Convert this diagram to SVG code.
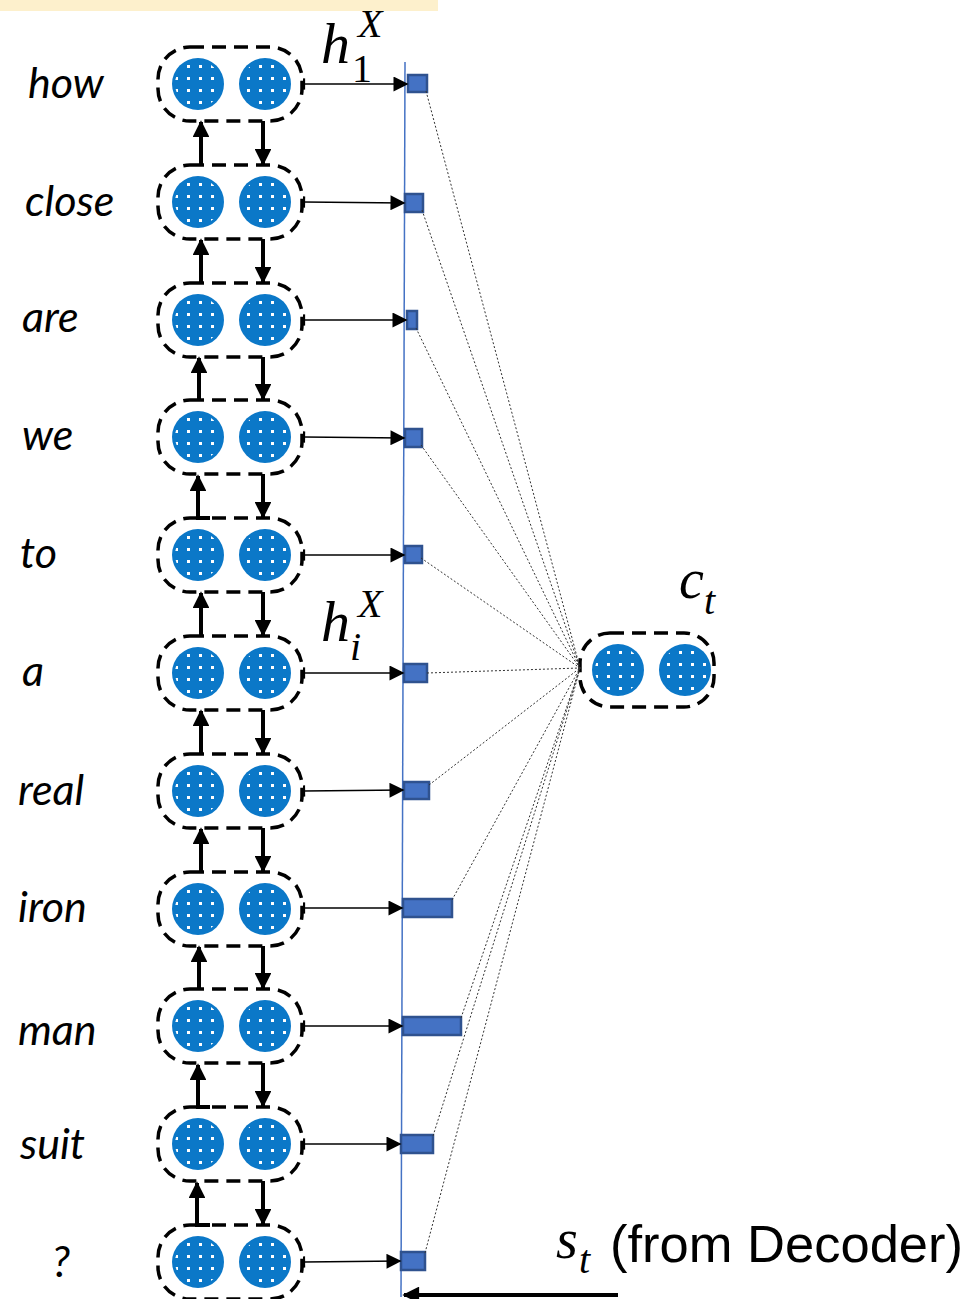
<svg xmlns="http://www.w3.org/2000/svg" width="971" height="1299" viewBox="0 0 971 1299">
  <style>
    .word { font-family: Lato, "Open Sans", "Liberation Sans", sans-serif; font-style: italic; font-size: 43px; fill: #000; }
    .math { font-family: "Liberation Serif", "DejaVu Serif", serif; font-style: italic; fill: #000; }
    .up { font-style: normal; }
    .plain { font-family: "Liberation Sans", Arial, sans-serif; font-size: 52.5px; fill: #000; }
    .cell { fill: none; stroke: #000; stroke-width: 3.5; stroke-dasharray: 14 8; }
    .unit { fill: #0b78c8; }
    .dots { fill: url(#dotgrid); }
    .link { stroke: #000; stroke-width: 4; fill: none; }
    .feed { stroke: #000; stroke-width: 1.5; fill: none; }
    .score { fill: #4472c4; stroke: #2f528f; stroke-width: 2.5; }
    .attn { stroke: #333; stroke-width: 1; stroke-dasharray: 2 2; fill: none; }
  </style>
  <defs>
    <pattern id="dotgrid" patternUnits="userSpaceOnUse" width="12" height="12" x="1" y="2">
      <rect x="4" y="4" width="3" height="3" fill="#fff"/>
    </pattern>
    <marker id="thick" viewBox="0 0 10 10" refX="9" refY="5" markerWidth="4.6" markerHeight="4.2" orient="auto" markerUnits="strokeWidth">
      <path d="M0,0 L10,5 L0,10 z" fill="#000"/>
    </marker>
    <marker id="thin" viewBox="0 0 10 10" refX="9" refY="5" markerWidth="12" markerHeight="10" orient="auto" markerUnits="strokeWidth">
      <path d="M0,0 L10,5 L0,10 z" fill="#000"/>
    </marker>
    <marker id="tick" viewBox="0 0 4 10" refX="1" refY="5" markerWidth="3" markerHeight="8" orient="auto" markerUnits="strokeWidth">
      <rect x="0" y="0" width="2" height="10" fill="#000"/>
    </marker>
    <g id="units">
      <circle class="unit" cx="40" cy="37" r="26"/>
      <circle class="dots" cx="40" cy="37" r="23"/>
      <circle class="unit" cx="107" cy="37" r="26"/>
      <circle class="dots" cx="107" cy="37" r="23"/>
    </g>
    <g id="pair">
      <use href="#units"/>
      <rect class="cell" x="0" y="0" width="144" height="74" rx="32" ry="32"/>
    </g>
  </defs>

  <!-- header strip -->
  <rect x="0" y="0" width="438" height="11" fill="#fdf0cc"/>

  <!-- word labels -->
  <g id="words">
    <text class="word" x="28" y="98">how</text>
    <text class="word" x="25" y="216">close</text>
    <text class="word" x="22" y="332">are</text>
    <text class="word" x="22" y="450">we</text>
    <text class="word" x="20" y="568">to</text>
    <text class="word" x="22" y="686">a</text>
    <text class="word" x="18" y="805">real</text>
    <text class="word" x="18" y="922">iron</text>
    <text class="word" x="18" y="1045">man</text>
    <text class="word" x="20" y="1159">suit</text>
    <text class="word" x="52" y="1277">?</text>
  </g>

  <!-- encoder cells -->
  <g id="enc-how"><use href="#pair" x="158" y="47"/></g>
  <g id="enc-close"><use href="#pair" x="158" y="165"/></g>
  <g id="enc-are"><use href="#pair" x="158" y="283"/></g>
  <g id="enc-we"><use href="#pair" x="158" y="400"/></g>
  <g id="enc-to"><use href="#pair" x="158" y="518"/></g>
  <g id="enc-a"><use href="#pair" x="158" y="636"/></g>
  <g id="enc-real"><use href="#pair" x="158" y="754"/></g>
  <g id="enc-iron"><use href="#pair" x="158" y="872"/></g>
  <g id="enc-man"><use href="#pair" x="158" y="989"/></g>
  <g id="enc-suit"><use href="#pair" x="158" y="1107"/></g>
  <g id="enc-q"><use href="#pair" x="158" y="1225"/></g>

  <!-- context vector -->
  <g id="context">
    <use href="#units" x="578" y="633"/>
    <rect class="cell" x="580" y="633" width="134" height="74" rx="30" ry="30"/>
  </g>

  <!-- attention score bars on the hidden-state axis -->
  <g id="scores">
    <line x1="405" y1="62" x2="401" y2="1297" stroke="#4472c4" stroke-width="1.5"/>
    <rect class="score" x="408" y="75" width="19" height="17"/>
    <rect class="score" x="405" y="194" width="18" height="18"/>
    <rect class="score" x="407" y="311" width="10" height="18"/>
    <rect class="score" x="405" y="429" width="17" height="18"/>
    <rect class="score" x="405" y="546" width="17" height="17"/>
    <rect class="score" x="404" y="664" width="23" height="18"/>
    <rect class="score" x="404" y="782" width="25" height="17"/>
    <rect class="score" x="403" y="899" width="49" height="18"/>
    <rect class="score" x="403" y="1017" width="58" height="18"/>
    <rect class="score" x="401" y="1135" width="32" height="18"/>
    <rect class="score" x="401" y="1252" width="24" height="18"/>
  </g>

  <g id="connectors">
    <!-- recurrent links: forward (up) and backward (down) -->
    <g class="link">
      <line x1="201" y1="165" x2="201" y2="122" marker-end="url(#thick)"/>
      <line x1="263" y1="121" x2="263" y2="164" marker-end="url(#thick)"/>
      <line x1="201" y1="283" x2="201" y2="240" marker-end="url(#thick)"/>
      <line x1="263" y1="239" x2="263" y2="282" marker-end="url(#thick)"/>
      <line x1="199" y1="400" x2="199" y2="358" marker-end="url(#thick)"/>
      <line x1="263" y1="357" x2="263" y2="399" marker-end="url(#thick)"/>
      <path d="M210,518 H198 V476" marker-end="url(#thick)"/>
      <line x1="263" y1="474" x2="263" y2="517" marker-end="url(#thick)"/>
      <line x1="201" y1="636" x2="201" y2="593" marker-end="url(#thick)"/>
      <line x1="263" y1="592" x2="263" y2="635" marker-end="url(#thick)"/>
      <line x1="201" y1="754" x2="201" y2="711" marker-end="url(#thick)"/>
      <line x1="263" y1="710" x2="263" y2="753" marker-end="url(#thick)"/>
      <line x1="201" y1="872" x2="201" y2="829" marker-end="url(#thick)"/>
      <line x1="263" y1="828" x2="263" y2="871" marker-end="url(#thick)"/>
      <line x1="199" y1="989" x2="199" y2="947" marker-end="url(#thick)"/>
      <line x1="263" y1="946" x2="263" y2="988" marker-end="url(#thick)"/>
      <path d="M210,1107 H198 V1065" marker-end="url(#thick)"/>
      <line x1="263" y1="1063" x2="263" y2="1106" marker-end="url(#thick)"/>
      <path d="M210,1225 H197 V1183" marker-end="url(#thick)"/>
      <line x1="263" y1="1181" x2="263" y2="1224" marker-end="url(#thick)"/>
    </g>
    <!-- hidden state outputs -->
    <g class="feed">
      <line x1="304" y1="84" x2="407" y2="84" marker-start="url(#tick)" marker-end="url(#thin)"/>
      <line x1="304" y1="202" x2="404" y2="203" marker-start="url(#tick)" marker-end="url(#thin)"/>
      <line x1="304" y1="320" x2="406" y2="320" marker-start="url(#tick)" marker-end="url(#thin)"/>
      <line x1="304" y1="437" x2="404" y2="438" marker-start="url(#tick)" marker-end="url(#thin)"/>
      <line x1="304" y1="555" x2="404" y2="555" marker-start="url(#tick)" marker-end="url(#thin)"/>
      <line x1="304" y1="673" x2="403" y2="673" marker-start="url(#tick)" marker-end="url(#thin)"/>
      <line x1="304" y1="791" x2="403" y2="790" marker-start="url(#tick)" marker-end="url(#thin)"/>
      <line x1="304" y1="908" x2="402" y2="908" marker-start="url(#tick)" marker-end="url(#thin)"/>
      <line x1="304" y1="1026" x2="402" y2="1026" marker-start="url(#tick)" marker-end="url(#thin)"/>
      <line x1="304" y1="1144" x2="400" y2="1144" marker-start="url(#tick)" marker-end="url(#thin)"/>
      <line x1="304" y1="1262" x2="400" y2="1261" marker-start="url(#tick)" marker-end="url(#thin)"/>
    </g>
    <!-- weighted sum into the context vector -->
    <g class="attn">
      <line x1="426" y1="91" x2="580" y2="668"/>
      <line x1="422" y1="210" x2="580" y2="668"/>
      <line x1="416" y1="328" x2="580" y2="668"/>
      <line x1="421" y1="445" x2="580" y2="668"/>
      <line x1="421" y1="558" x2="580" y2="668"/>
      <line x1="427" y1="673" x2="580" y2="668"/>
      <line x1="429" y1="785" x2="580" y2="668"/>
      <line x1="452" y1="900" x2="580" y2="668"/>
      <line x1="461" y1="1018" x2="580" y2="668"/>
      <line x1="433" y1="1136" x2="580" y2="668"/>
      <line x1="425" y1="1253" x2="580" y2="668"/>
    </g>
    <!-- decoder state input -->
    <line x1="618" y1="1295" x2="404" y2="1295" class="link" marker-end="url(#thick)"/>
  </g>

  <!-- math labels -->
  <g id="labels">
    <text class="math" x="321" y="63" font-size="58">h</text>
    <text class="math" x="358" y="37" font-size="40">X</text>
    <text class="math up" x="352" y="82" font-size="40">1</text>
    <text class="math" x="321" y="641" font-size="58">h</text>
    <text class="math" x="358" y="617" font-size="40">X</text>
    <text class="math" x="350" y="660" font-size="40">i</text>
    <text class="math" x="679" y="598" font-size="56">c</text>
    <text class="math" x="704" y="614" font-size="40">t</text>
    <text class="math" x="556" y="1258" font-size="56">s</text>
    <text class="math" x="579" y="1273" font-size="40">t</text>
    <text class="plain" x="610" y="1262">(from Decoder)</text>
  </g>
</svg>
